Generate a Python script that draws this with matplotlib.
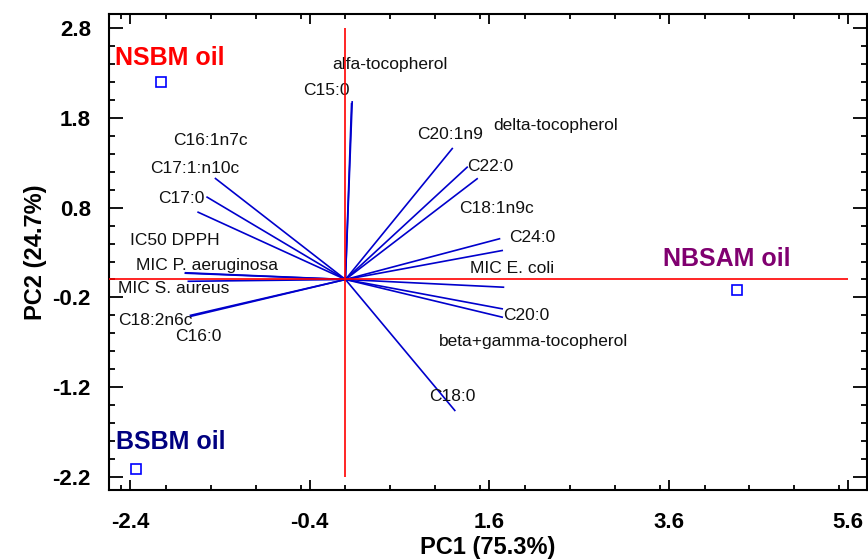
import numpy as np
from matplotlib import pyplot as plt
from matplotlib.ticker import MultipleLocator

# Loadings of the variables (blue vectors from the origin)
varNames = ["alfa-tocopherol", "C15:0", "C20:1n9", "delta-tocopherol", "C22:0",
            "C18:1n9c", "C24:0", "MIC E. coli", "C20:0", "beta+gamma-tocopherol",
            "C18:0", "C16:1n7c", "C17:1:n10c", "C17:0", "IC50 DPPH",
            "MIC P. aeruginosa", "MIC S. aureus", "C18:2n6c", "C16:0"]
varPC1 = [0.075, 0.068, 1.19, 1.356, 1.467, 1.716, 1.746, 1.76, 1.746, 1.746,
          1.218, -1.448, -1.541, -1.641, -1.78, -1.783, -1.75, -1.727, -1.72]
varPC2 = [1.98, 1.96, 1.46, 1.252, 1.123, 0.454, 0.323, -0.086, -0.327, -0.42,
          -1.46, 1.126, 0.918, 0.75, 0.075, 0.07, -0.02, -0.40, -0.41]

# Scores of the oils
oilNames = ["NSBM oil", "BSBM oil", "NBSAM oil"]
oilPC1 = [-2.05, -2.33, 4.36]
oilPC2 = [2.20, -2.11, -0.115]

xTicks = [-2.4, -0.4, 1.6, 3.6, 5.6]
yTicks = [-2.2, -1.2, -0.2, 0.8, 1.8, 2.8]

# where each variable name is written (left edge, middle)
labelPos = {
    "alfa-tocopherol": (-0.148, 2.397),
    "C15:0": (-0.468, 2.107),
    "C20:1n9": (0.799, 1.617),
    "delta-tocopherol": (1.649, 1.717),
    "C22:0": (1.356, 1.26),
    "C18:1n9c": (1.27, 0.792),
    "C24:0": (1.827, 0.468),
    "MIC E. coli": (1.382, 0.123),
    "C20:0": (1.76, -0.401),
    "beta+gamma-tocopherol": (1.036, -0.691),
    "C18:0": (0.936, -1.304),
    "C16:1n7c": (-1.916, 1.55),
    "C17:1:n10c": (-2.173, 1.237),
    "C17:0": (-2.084, 0.903),
    "IC50 DPPH": (-2.396, 0.435),
    "MIC P. aeruginosa": (-2.332, 0.156),
    "MIC S. aureus": (-2.533, -0.10),
    "C18:2n6c": (-2.533, -0.457),
    "C16:0": (-1.894, -0.635),
}
oilPos = [(-2.563, 2.469), (-2.552, -1.817), (3.543, 0.223)]
oilColors = ['#ff0000', '#000080', '#800070']

plt.rcParams['font.family'] = ['Liberation Sans', 'DejaVu Sans']

fig = plt.figure(figsize=(8.68, 5.6), dpi=100)
ax = fig.add_axes([109 / 868., 70 / 560., 758 / 868., 476 / 560.])

xMin, xMax = -2.634, 5.81
yMin, yMax = -2.347, 2.96

for i in range(0, len(varNames)):
    ax.plot([0, varPC1[i]], [0, varPC2[i]], color='#0000cc', linewidth=1.2, zorder=2)
    lx, ly = labelPos[varNames[i]]
    ax.text(lx, ly, varNames[i], fontsize=12.5, ha='left', va='center', color='#111111')

# red reference axes
ax.hlines(0, xMin, xTicks[-1], color='#ff0000', linewidth=1.2, zorder=3)
ax.vlines(0, yTicks[0], yTicks[-1], color='#ff0000', linewidth=1.2, zorder=3)

ax.plot(oilPC1, oilPC2, linestyle='none', marker='s', markersize=6.5,
        markerfacecolor='white', markeredgecolor='#0000ff', markeredgewidth=1.2, zorder=4)
for i in range(0, len(oilNames)):
    ax.text(oilPos[i][0], oilPos[i][1], oilNames[i], fontsize=18, fontweight='bold',
            color=oilColors[i], ha='left', va='center')

ax.set_xlim(xMin, xMax)
ax.set_ylim(yMin, yMax)
ax.set_xticks(xTicks)
ax.set_yticks(yTicks)
ax.set_xticklabels([str(t) for t in xTicks])
ax.set_yticklabels([str(t) for t in yTicks])
ax.xaxis.set_minor_locator(MultipleLocator(0.5))
ax.yaxis.set_minor_locator(MultipleLocator(0.2))

for s in ax.spines.values():
    s.set_linewidth(1.5)
ax.tick_params(axis='both', which='both', direction='in', top=True, right=True, width=1.3)
ax.tick_params(axis='x', which='major', length=7.5, pad=16, labelsize=16)
ax.tick_params(axis='x', which='minor', length=3.5)
ax.tick_params(axis='y', which='major', length=10, pad=13, labelsize=16)
ax.tick_params(axis='y', which='minor', length=4.5)
for lab in ax.get_xticklabels() + ax.get_yticklabels():
    lab.set_fontweight('bold')

ax.set_xlabel('PC1 (75.3%)', fontsize=17, fontweight='bold', labelpad=2)
ax.set_ylabel('PC2 (24.7%)', fontsize=17, fontweight='bold', labelpad=4)

plt.savefig("out.png", dpi=100)
